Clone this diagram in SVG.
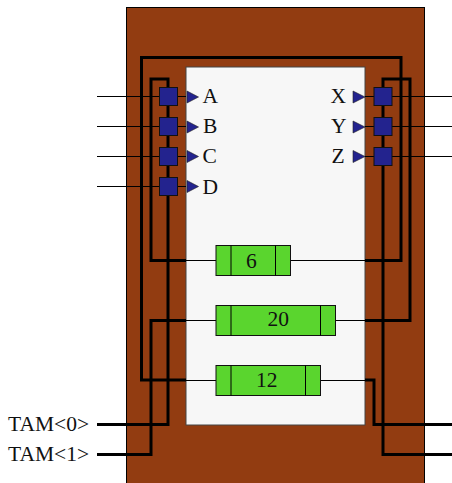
<svg xmlns="http://www.w3.org/2000/svg" width="452" height="483" viewBox="0 0 452 483">
<style>
text{font-family:"Liberation Serif","Times New Roman",serif;font-size:21.500px;fill:#111}
.thin{fill:none;stroke:#000;stroke-width:1.200}
.thick{fill:none;stroke:#000;stroke-width:3}
.pad{fill:#23238e;stroke:#111;stroke-width:1}
.tri{fill:#23238e;stroke:#222;stroke-width:.6}
.core{fill:#5ad52e;stroke:#111;stroke-width:1}
.div{stroke:#000;stroke-width:1}
</style>
<rect id="chip" x="126.500" y="7.500" width="298" height="476" fill="#923c11" stroke="#000" stroke-width="1"/>
<rect id="logic" x="186" y="67" width="179" height="358" fill="#f7f7f7" stroke="#444" stroke-width="1"/>
<g id="connectors">
<path class="thin" d="M97 96.500H186M97 126.500H186M97 156.500H186M97 186.500H186M365 96.500H452M365 126.500H452M365 156.500H452"/>
<path class="thin" d="M186 260.500H216M186 320.500H216M186 380.500H216M291 260.500H365M336 320.500H365M321 380.500H365"/>
<path class="thick" d="M186 380H141.500V57.500H401V260.500H365"/>
<path class="thick" d="M97 424.500H168V79H151V260.500H186"/>
<path class="thick" d="M97 454.500H151V320.500H186"/>
<path class="thick" d="M452 454.500H383V79H410V320.500H365"/>
<path class="thick" d="M365 380H374V424.500H452"/>
</g>
<g id="A"><rect class="pad" x="159.500" y="87.500" width="18" height="18"/><path class="tri" d="M187 91V103L198.500 97Z"/><text x="202.500" y="103">A</text></g>
<g id="B"><rect class="pad" x="159.500" y="117.500" width="18" height="18"/><path class="tri" d="M187 121V133L198.500 127Z"/><text x="203" y="133">B</text></g>
<g id="C"><rect class="pad" x="159.500" y="147.500" width="18" height="18"/><path class="tri" d="M187 150.500V162.500L198.500 156.500Z"/><text x="202.500" y="162.500">C</text></g>
<g id="D"><rect class="pad" x="159.500" y="177.500" width="18" height="18"/><path class="tri" d="M187 180.500V192.500L198.500 186.500Z"/><text x="202.500" y="194">D</text></g>
<g id="X"><rect class="pad" x="374" y="87.500" width="18" height="18"/><path class="tri" d="M353 91V103L365 97Z"/><text x="330.500" y="103">X</text></g>
<g id="Y"><rect class="pad" x="374" y="117.500" width="18" height="18"/><path class="tri" d="M353 121V133L365 127Z"/><text x="331" y="133">Y</text></g>
<g id="Z"><rect class="pad" x="374" y="147.500" width="18" height="18"/><path class="tri" d="M353 150.500V162.500L365 156.500Z"/><text x="331.500" y="162.500">Z</text></g>
<g id="core6"><rect class="core" x="216" y="245.500" width="74.500" height="30"/><path class="div" d="M231 245.500V275.500M275.500 245.500V275.500"/><text x="246" y="267.500">6</text></g>
<g id="core20"><rect class="core" x="216" y="305.500" width="119.500" height="30"/><path class="div" d="M231 305.500V335.500M320.500 305.500V335.500"/><text x="267.500" y="326">20</text></g>
<g id="core12"><rect class="core" x="216" y="365.500" width="104.500" height="30"/><path class="div" d="M231 365.500V395.500M305.500 365.500V395.500"/><text x="256" y="386.500">12</text></g>
<g id="tam0"><text x="8" y="431">TAM&lt;0&gt;</text></g>
<g id="tam1"><text x="8" y="461">TAM&lt;1&gt;</text></g>
</svg>
